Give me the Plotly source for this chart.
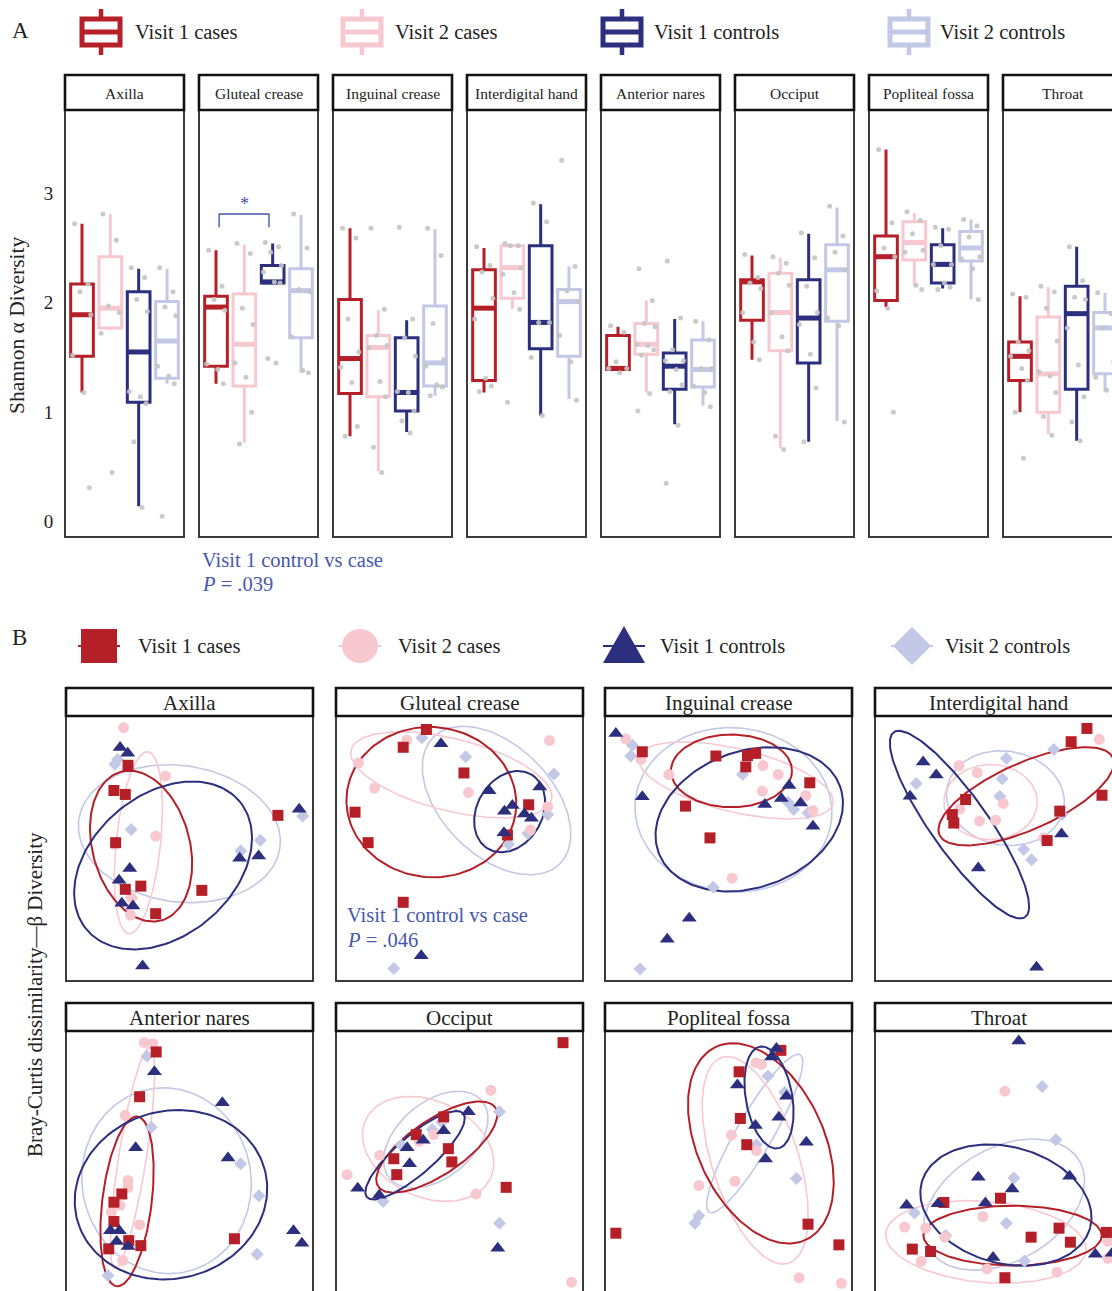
import math
import plotly.graph_objects as go

FIG_W, FIG_H = 1112, 1291
FONT = "Liberation Serif"

RED = "#b51f28"
PINK = "#f8c8d0"
NAVY = "#2b2f7d"
LAV = "#c3c8e6"
GREY = "#c4c4c4"
NOTE_BLUE = "#4658ad"

GROUPS = ["Visit 1 cases", "Visit 2 cases", "Visit 1 controls", "Visit 2 controls"]
COLORS = [RED, PINK, NAVY, LAV]
SITES = ["Axilla", "Gluteal crease", "Inguinal crease", "Interdigital hand",
         "Anterior nares", "Occiput", "Popliteal fossa", "Throat"]

# ---- Panel A: Shannon alpha diversity (rows = sites, columns = GROUPS) ----
alpha_lower = [
    [1.18, 1.75, 0.14, 1.26],
    [1.26, 0.72, 2.18, 1.36],
    [0.78, 0.46, 0.82, 1.15],
    [1.18, 1.94, 0.97, 1.12],
    [1.39, 1.18, 0.89, 1.06],
    [1.48, 0.67, 0.73, 0.92],
    [1.96, 2.15, 2.13, 2.03],
    [1.00, 0.80, 0.74, 1.19],
]
alpha_q1 = [
    [1.51, 1.77, 1.09, 1.31],
    [1.42, 1.24, 2.18, 1.68],
    [1.17, 1.14, 1.01, 1.24],
    [1.29, 2.04, 1.58, 1.51],
    [1.39, 1.53, 1.21, 1.23],
    [1.84, 1.56, 1.45, 1.83],
    [2.02, 2.39, 2.18, 2.38],
    [1.29, 1.00, 1.21, 1.35],
]
alpha_median = [
    [1.89, 1.95, 1.55, 1.65],
    [1.96, 1.62, 2.19, 2.11],
    [1.49, 1.59, 1.18, 1.45],
    [1.95, 2.32, 1.82, 2.01],
    [1.40, 1.62, 1.42, 1.39],
    [2.19, 1.91, 1.86, 2.30],
    [2.42, 2.55, 2.35, 2.50],
    [1.51, 1.35, 1.90, 1.77],
]
alpha_q3 = [
    [2.17, 2.42, 2.10, 2.01],
    [2.06, 2.08, 2.34, 2.31],
    [2.03, 1.70, 1.68, 1.97],
    [2.30, 2.52, 2.52, 2.12],
    [1.70, 1.81, 1.54, 1.66],
    [2.21, 2.27, 2.21, 2.53],
    [2.61, 2.74, 2.53, 2.65],
    [1.64, 1.87, 2.15, 1.91],
]
alpha_upper = [
    [2.72, 2.81, 2.31, 2.31],
    [2.48, 2.53, 2.54, 2.80],
    [2.68, 1.93, 1.84, 2.67],
    [2.50, 2.52, 2.90, 2.33],
    [1.78, 2.02, 1.85, 1.83],
    [2.43, 2.41, 2.63, 2.87],
    [3.40, 2.82, 2.68, 2.76],
    [2.06, 2.14, 2.51, 2.09],
]
alpha_samples = [
    [[2.72, 2.17, 2.10, 1.89, 1.52, 1.18, 0.31],
     [2.81, 2.57, 1.97, 1.91, 1.72, 0.45],
     [2.32, 2.23, 2.03, 1.92, 1.19, 1.14, 1.08, 0.73, 0.13],
     [2.32, 2.10, 1.96, 1.88, 1.42, 1.33, 1.26, 0.05]],
    [[2.48, 2.15, 2.03, 1.93, 1.44, 1.39, 1.26],
     [2.54, 2.45, 1.95, 1.80, 1.45, 1.32, 1.00, 0.71],
     [2.55, 2.51, 2.46, 2.34, 2.28, 2.19, 2.18, 1.49, 1.45],
     [2.81, 2.50, 2.12, 2.10, 1.69, 1.38, 1.36]],
    [[2.68, 2.59, 1.85, 1.55, 1.41, 1.27, 0.87, 0.78],
     [2.68, 1.94, 1.70, 1.61, 1.59, 1.28, 1.14, 0.68, 0.45],
     [2.69, 1.85, 1.68, 1.51, 1.19, 1.18, 1.01, 0.92, 0.81],
     [2.68, 2.43, 1.81, 1.48, 1.42, 1.25, 1.23, 1.15]],
    [[2.51, 2.34, 2.28, 2.04, 1.85, 1.31, 1.24, 1.19],
     [2.54, 2.52, 2.52, 2.32, 2.26, 2.09, 1.94, 1.09],
     [2.91, 2.74, 1.82, 1.82, 1.50, 0.97],
     [3.30, 2.33, 2.11, 2.01, 1.70, 1.46, 1.11]],
    [[1.79, 1.73, 1.46, 1.40, 1.40, 1.36],
     [2.31, 2.02, 1.81, 1.78, 1.62, 1.61, 1.57, 1.52, 1.17, 1.01],
     [2.38, 1.86, 1.57, 1.47, 1.47, 1.39, 1.25, 1.19, 0.88, 0.35],
     [1.83, 1.66, 1.40, 1.40, 1.24, 1.18, 1.05]],
    [[2.44, 2.23, 2.18, 2.13, 1.91, 1.64, 1.48],
     [2.42, 2.36, 2.27, 2.16, 1.91, 1.69, 1.56, 0.78, 0.66],
     [2.64, 2.41, 2.15, 1.91, 1.80, 1.53, 1.22, 0.73],
     [2.88, 2.61, 2.46, 2.30, 1.86, 1.79, 0.91]],
    [[3.40, 2.73, 2.50, 2.42, 2.11, 1.95, 1.00],
     [2.83, 2.75, 2.63, 2.48, 2.46, 2.16, 2.12],
     [2.69, 2.67, 2.52, 2.35, 2.35, 2.18, 2.14, 2.12],
     [2.76, 2.70, 2.60, 2.42, 2.40, 2.31, 2.03]],
    [[2.08, 2.05, 1.64, 1.56, 1.51, 1.40, 1.29, 1.00, 0.58],
     [2.15, 2.10, 1.95, 1.65, 1.37, 1.33, 1.18, 0.96, 0.79],
     [2.51, 2.20, 2.05, 2.03, 1.77, 1.43, 1.14, 0.91, 0.74],
     [2.09, 1.90, 1.77, 1.46, 1.32, 1.20]],
]
alpha_ticks = [0, 1, 2, 3]

# ---- Panel B: Bray-Curtis ordination coordinates (scaled to each facet) ----
beta_x = [
    [[0.251, 0.194, 0.240, 0.858, 0.201, 0.240, 0.303, 0.550, 0.363],
     [0.233, 0.403, 0.363, 0.198, 0.261, 0.265],
     [0.219, 0.250, 0.944, 0.703, 0.780, 0.258, 0.215, 0.226, 0.271, 0.310],
     [0.198, 0.209, 0.264, 0.787, 0.707, 0.265, 0.958]],
    [[0.366, 0.272, 0.518, 0.077, 0.130, 0.780, 0.694, 0.272],
     [0.286, 0.091, 0.156, 0.536, 0.864, 0.857, 0.787],
     [0.425, 0.620, 0.825, 0.682, 0.714, 0.763, 0.791, 0.680, 0.345],
     [0.348, 0.525, 0.882, 0.857, 0.699, 0.777, 0.234]],
    [[0.151, 0.449, 0.577, 0.610, 0.570, 0.829, 0.326, 0.425],
     [0.084, 0.146, 0.259, 0.640, 0.701, 0.637, 0.813, 0.842, 0.515],
     [0.044, 0.151, 0.745, 0.647, 0.714, 0.792, 0.842, 0.341, 0.252],
     [0.111, 0.104, 0.557, 0.741, 0.764, 0.822, 0.438, 0.142]],
    [[0.858, 0.794, 0.919, 0.367, 0.313, 0.319, 0.748, 0.697],
     [0.908, 0.414, 0.344, 0.423, 0.488, 0.519, 0.340, 0.683],
     [0.195, 0.248, 0.142, 0.755, 0.418, 0.654],
     [0.167, 0.515, 0.505, 0.532, 0.724, 0.602, 0.634, 0.757]],
    [[0.365, 0.298, 0.226, 0.194, 0.194, 0.254, 0.303, 0.173, 0.682],
     [0.317, 0.352, 0.240, 0.251, 0.251, 0.219, 0.184, 0.298, 0.230],
     [0.358, 0.633, 0.282, 0.656, 0.180, 0.216, 0.205, 0.251, 0.921, 0.955],
     [0.328, 0.345, 0.707, 0.781, 0.774, 0.170]],
    [[0.919, 0.436, 0.325, 0.455, 0.234, 0.469, 0.246, 0.689],
     [0.627, 0.436, 0.396, 0.336, 0.177, 0.045, 0.567, 0.954],
     [0.536, 0.436, 0.353, 0.288, 0.298, 0.088, 0.175, 0.655],
     [0.662, 0.390, 0.429, 0.265, 0.191, 0.662]],
    [[0.712, 0.543, 0.548, 0.574, 0.822, 0.044, 0.947],
     [0.611, 0.633, 0.512, 0.613, 0.526, 0.380, 0.786, 0.957],
     [0.694, 0.674, 0.536, 0.735, 0.704, 0.609, 0.815, 0.650],
     [0.660, 0.728, 0.613, 0.775, 0.380, 0.364]],
    [[0.279, 0.508, 0.151, 0.225, 0.632, 0.745, 0.791, 0.937, 0.526],
     [0.526, 0.437, 0.120, 0.205, 0.283, 0.187, 0.454, 0.737, 0.943, 0.943],
     [0.582, 0.418, 0.555, 0.788, 0.128, 0.255, 0.447, 0.478, 0.892, 0.960],
     [0.677, 0.732, 0.562, 0.532, 0.160, 0.286, 0.605]],
]
beta_y = [
    [[0.814, 0.719, 0.704, 0.625, 0.522, 0.346, 0.358, 0.342, 0.254],
     [0.956, 0.774, 0.547, 0.516, 0.249, 0.314],
     [0.881, 0.859, 0.648, 0.463, 0.472, 0.425, 0.380, 0.293, 0.283, 0.057],
     [0.818, 0.836, 0.572, 0.531, 0.491, 0.314, 0.623]],
    [[0.949, 0.882, 0.785, 0.637, 0.522, 0.665, 0.551, 0.297],
     [0.909, 0.823, 0.728, 0.711, 0.908, 0.658, 0.570],
     [0.895, 0.718, 0.732, 0.641, 0.662, 0.630, 0.614, 0.559, 0.095],
     [0.918, 0.846, 0.781, 0.628, 0.516, 0.557, 0.047]],
    [[0.865, 0.849, 0.851, 0.859, 0.808, 0.748, 0.660, 0.540],
     [0.914, 0.836, 0.779, 0.813, 0.779, 0.716, 0.700, 0.643, 0.388],
     [0.934, 0.695, 0.738, 0.666, 0.689, 0.672, 0.584, 0.237, 0.158],
     [0.890, 0.849, 0.779, 0.675, 0.647, 0.634, 0.354, 0.045]],
    [[0.953, 0.903, 0.701, 0.685, 0.628, 0.596, 0.641, 0.530],
     [0.912, 0.786, 0.649, 0.603, 0.607, 0.670, 0.813, 0.540],
     [0.826, 0.777, 0.697, 0.555, 0.426, 0.052],
     [0.745, 0.763, 0.697, 0.840, 0.874, 0.496, 0.458, 0.628]],
    [[0.921, 0.752, 0.385, 0.354, 0.281, 0.209, 0.190, 0.178, 0.216],
     [0.956, 0.952, 0.682, 0.436, 0.410, 0.342, 0.317, 0.269, 0.134],
     [0.846, 0.729, 0.559, 0.521, 0.246, 0.246, 0.206, 0.187, 0.246, 0.199],
     [0.905, 0.637, 0.499, 0.378, 0.158, 0.077]],
    [[0.956, 0.676, 0.609, 0.556, 0.518, 0.506, 0.458, 0.410],
     [0.776, 0.670, 0.609, 0.584, 0.531, 0.458, 0.385, 0.052],
     [0.695, 0.624, 0.588, 0.559, 0.499, 0.407, 0.380, 0.180],
     [0.695, 0.628, 0.656, 0.569, 0.357, 0.275]],
    [[0.927, 0.846, 0.670, 0.571, 0.271, 0.237, 0.193],
     [0.880, 0.874, 0.607, 0.549, 0.433, 0.417, 0.069, 0.048],
     [0.934, 0.902, 0.796, 0.754, 0.675, 0.643, 0.580, 0.517],
     [0.830, 0.769, 0.571, 0.443, 0.303, 0.275]],
    [[0.353, 0.369, 0.177, 0.168, 0.222, 0.256, 0.203, 0.240, 0.069],
     [0.773, 0.300, 0.260, 0.256, 0.222, 0.131, 0.102, 0.090, 0.206, 0.142],
     [0.962, 0.448, 0.404, 0.452, 0.342, 0.348, 0.351, 0.145, 0.158, 0.161],
     [0.791, 0.590, 0.445, 0.275, 0.313, 0.228, 0.132]],
]

# 95% ellipses per site and group: centre, semi-axes (facet-width units), rotation (deg)
ell_cx = [
    [0.304, 0.293, 0.393, 0.459], [0.386, 0.467, 0.703, 0.650],
    [0.512, 0.530, 0.584, 0.520], [0.612, 0.468, 0.342, 0.528],
    [0.247, 0.269, 0.425, 0.407], [0.408, 0.373, 0.320, 0.404],
    [0.631, 0.608, 0.664, 0.606], [0.557, 0.449, 0.530, 0.522],
]
ell_cy = [
    [0.509, 0.522, 0.436, 0.556], [0.675, 0.778, 0.639, 0.681],
    [0.793, 0.757, 0.610, 0.646], [0.697, 0.675, 0.590, 0.690],
    [0.357, 0.521, 0.382, 0.435], [0.562, 0.555, 0.531, 0.590],
    [0.576, 0.512, 0.749, 0.613], [0.228, 0.204, 0.343, 0.345],
]
ell_a = [
    [0.312, 0.370, 0.404, 0.411], [0.344, 0.418, 0.174, 0.362],
    [0.245, 0.404, 0.391, 0.399], [0.384, 0.189, 0.459, 0.240],
    [0.346, 0.452, 0.393, 0.377], [0.286, 0.279, 0.258, 0.244],
    [0.431, 0.438, 0.209, 0.368], [0.361, 0.407, 0.353, 0.353],
]
ell_b = [
    [0.197, 0.090, 0.286, 0.276], [0.304, 0.146, 0.132, 0.223],
    [0.147, 0.128, 0.276, 0.332], [0.135, 0.152, 0.115, 0.190],
    [0.100, 0.056, 0.339, 0.342], [0.111, 0.195, 0.077, 0.153],
    [0.256, 0.175, 0.094, 0.074], [0.121, 0.164, 0.236, 0.229],
]
ell_angle = [
    [105, 84, 40, -8], [-5, -14, 60, -45],
    [0, -13.5, 20, -5], [24, 0, -54.6, -10],
    [83, 81, 15, 100], [34, -25, 41, 40],
    [115, 108, 100, 60], [0, -5, -15, 30],
]


def px_x(p):
    return p / FIG_W


def px_y(p):
    return 1 - p / FIG_H


fig = go.Figure()
layout = {}
shapes = []
annotations = []


def axis_keys(n):
    s = "" if n == 1 else str(n)
    return "xaxis" + s, "yaxis" + s, "x" + s, "y" + s


def add_text(x, y, text, size, color="#222222", xanchor="left", angle=0):
    annotations.append(dict(
        x=px_x(x), y=px_y(y), xref="paper", yref="paper", text=text,
        showarrow=False, xanchor=xanchor, yanchor="middle", textangle=angle,
        font=dict(family=FONT, size=size, color=color)))


def add_strip(left, top, bottom, width, label, size):
    shapes.append(dict(type="rect", xref="paper", yref="paper",
                       x0=px_x(left), x1=px_x(left + width), y0=px_y(bottom), y1=px_y(top),
                       line=dict(color="#111111", width=2.6), fillcolor="white", layer="above"))
    add_text(left + width / 2, (top + bottom) / 2 + 1, label, size, xanchor="center")


def add_frame(left, top, bottom, width):
    shapes.append(dict(type="rect", xref="paper", yref="paper",
                       x0=px_x(left), x1=px_x(left + width), y0=px_y(bottom), y1=px_y(top),
                       line=dict(color="#3c3c3c", width=2), layer="above"))


hidden = dict(showgrid=False, zeroline=False, showline=False, showticklabels=False, ticks="")

# ---------------- Panel A ----------------
A_LEFT = [65 + 134 * i for i in range(8)]
A_W = 119
A_TOP, A_BOT, A_STRIP = 110, 537, 75
A_UNIT = A_W / 4.2
JITTER = [-0.26, 0.21, -0.07, 0.31, -0.33, 0.06, 0.26, -0.17, 0.12, -0.3, 0.0]

for i, site in enumerate(SITES):
    n = i + 1
    xk, yk, xr, yr = axis_keys(n)
    left = A_LEFT[i]
    right = min(left + A_W, FIG_W)
    layout[xk] = dict(domain=[px_x(left), px_x(right)], range=[0.4, 0.4 + (right - left) / A_UNIT],
                      anchor=yr, **hidden)
    yax = dict(domain=[px_y(A_BOT), px_y(A_TOP)], range=[-0.14, 3.76], anchor=xr,
               showgrid=False, zeroline=False, showline=False)
    if i == 0:
        yax.update(showticklabels=True, tickvals=alpha_ticks, ticks="outside", ticklen=7,
                   tickcolor="rgba(0,0,0,0)", tickfont=dict(family=FONT, size=19, color="#222222"))
    else:
        yax.update(showticklabels=False, ticks="")
    layout[yk] = yax

    for g in range(4):
        pos = g + 1
        fig.add_trace(go.Box(
            x=[pos], q1=[alpha_q1[i][g]], median=[alpha_median[i][g]], q3=[alpha_q3[i][g]],
            lowerfence=[alpha_lower[i][g]], upperfence=[alpha_upper[i][g]],
            width=0.8, whiskerwidth=0, boxpoints=False, fillcolor="white",
            line=dict(color=COLORS[g], width=3), xaxis=xr, yaxis=yr,
            showlegend=False, hoverinfo="skip"))
        # heavier median bar
        fig.add_trace(go.Scatter(
            x=[pos - 0.38, pos + 0.38], y=[alpha_median[i][g]] * 2, mode="lines",
            line=dict(color=COLORS[g], width=5), xaxis=xr, yaxis=yr,
            showlegend=False, hoverinfo="skip"))
    for g in range(4):
        vals = alpha_samples[i][g]
        xs = [g + 1 + JITTER[k % len(JITTER)] for k in range(len(vals))]
        fig.add_trace(go.Scatter(
            x=xs, y=vals, mode="markers", marker=dict(color=GREY, size=5, opacity=0.9),
            xaxis=xr, yaxis=yr, showlegend=False, hoverinfo="skip"))

    add_frame(left, A_TOP, A_BOT, A_W)
    add_strip(left, A_STRIP, A_TOP, A_W, site, 15.5)

# significance bracket (Gluteal crease, visit 1 cases vs controls)
fig.add_trace(go.Scatter(x=[1.11, 1.11, 2.87, 2.87], y=[2.69, 2.81, 2.81, 2.69], mode="lines",
                         line=dict(color=NOTE_BLUE, width=1.4), xaxis="x2", yaxis="y2",
                         showlegend=False, hoverinfo="skip"))
annotations.append(dict(x=1.99, y=2.9, xref="x2", yref="y2", text="*", showarrow=False,
                        yanchor="middle", font=dict(family=FONT, size=18, color=NOTE_BLUE)))
add_text(200, 560, "Visit 1 control vs case", 20.5, NOTE_BLUE)
add_text(200, 584, "<i>P</i> = .039", 20.5, NOTE_BLUE)

# Panel A title and legend
add_text(10, 30, "A", 23)
add_text(17, 325, "Shannon α Diversity", 21.5, xanchor="center", angle=-90)
legend_a_x = [101, 362, 622, 909]
legend_a_text = [133, 393, 652, 938]
for g in range(4):
    cx, c = legend_a_x[g], COLORS[g]
    shapes.append(dict(type="line", xref="paper", yref="paper", x0=px_x(cx), x1=px_x(cx),
                       y0=px_y(9), y1=px_y(55), line=dict(color=c, width=4.5)))
    shapes.append(dict(type="rect", xref="paper", yref="paper", x0=px_x(cx - 19), x1=px_x(cx + 19),
                       y0=px_y(45), y1=px_y(19), fillcolor="white", line=dict(color=c, width=5)))
    shapes.append(dict(type="line", xref="paper", yref="paper", x0=px_x(cx - 19), x1=px_x(cx + 19),
                       y0=px_y(32), y1=px_y(32), line=dict(color=c, width=5)))
    add_text(legend_a_text[g], 32, GROUPS[g], 20.5)

# ---------------- Panel B ----------------
B_LEFT = [66, 336, 605, 875]
B_W = 247
B_ROWS = [(688, 716, 981), (1003, 1031, 1296)]
ASPECT = B_W / (B_ROWS[0][2] - B_ROWS[0][1])
SYMBOLS = ["square", "circle", "triangle-up", "diamond"]
SIZES = [11, 11, 13, 10]
ELL_W = [2.0, 1.6, 2.0, 1.6]
DRAW_ORDER = [3, 1, 0, 2]

for i, site in enumerate(SITES):
    n = 9 + i
    xk, yk, xr, yr = axis_keys(n)
    row, col = divmod(i, 4)
    left = B_LEFT[col]
    strip_top, top, bottom = B_ROWS[row]
    right = min(left + B_W, FIG_W)
    low = min(bottom, FIG_H)
    layout[xk] = dict(domain=[px_x(left), px_x(right)], range=[0, (right - left) / B_W],
                      anchor=yr, **hidden)
    layout[yk] = dict(domain=[px_y(low), px_y(top)],
                      range=[(bottom - low) / (bottom - top), 1], anchor=xr, **hidden)

    steps = 160
    for g in DRAW_ORDER:
        th = math.radians(ell_angle[i][g])
        a, b = ell_a[i][g], ell_b[i][g]
        ex, ey = [], []
        for k in range(steps + 1):
            t = 2 * math.pi * k / steps
            ex.append(ell_cx[i][g] + a * math.cos(t) * math.cos(th) - b * math.sin(t) * math.sin(th))
            ey.append(ell_cy[i][g] + (a * math.cos(t) * math.sin(th) + b * math.sin(t) * math.cos(th)) * ASPECT)
        fig.add_trace(go.Scatter(x=ex, y=ey, mode="lines", line=dict(color=COLORS[g], width=ELL_W[g]),
                                 xaxis=xr, yaxis=yr, showlegend=False, hoverinfo="skip"))
    for g in DRAW_ORDER:
        fig.add_trace(go.Scatter(
            x=beta_x[i][g], y=beta_y[i][g], mode="markers",
            marker=dict(symbol=SYMBOLS[g], size=SIZES[g], color=COLORS[g], line=dict(width=0)),
            xaxis=xr, yaxis=yr, showlegend=False, hoverinfo="skip"))

    add_frame(left, top, bottom, B_W)
    add_strip(left, strip_top, top, B_W, site, 21)

add_text(345, 915, "Visit 1 control vs case", 20.5, NOTE_BLUE)
add_text(345, 940, "<i>P</i> = .046", 20.5, NOTE_BLUE)

# Panel B title and legend
add_text(10, 637, "B", 23)
add_text(35, 995, "Bray-Curtis dissimilarity—β Diversity", 21, xanchor="center", angle=-90)
legend_b_x = [99, 360, 624, 912]
legend_b_text = [136, 396, 658, 943]
LY = 646
for g in range(4):
    cx, c = legend_b_x[g], COLORS[g]
    shapes.append(dict(type="line", xref="paper", yref="paper", x0=px_x(cx - 21), x1=px_x(cx + 21),
                       y0=px_y(LY), y1=px_y(LY), line=dict(color=c, width=2)))
    if g == 0:
        shapes.append(dict(type="rect", xref="paper", yref="paper", x0=px_x(cx - 18), x1=px_x(cx + 18),
                           y0=px_y(LY + 17), y1=px_y(LY - 17), fillcolor=c, line=dict(width=0)))
    elif g == 1:
        shapes.append(dict(type="circle", xref="paper", yref="paper", x0=px_x(cx - 18), x1=px_x(cx + 18),
                           y0=px_y(LY + 17), y1=px_y(LY - 17), fillcolor=c, line=dict(width=0)))
    elif g == 2:
        path = "M {} {} L {} {} L {} {} Z".format(px_x(cx - 21), px_y(LY + 17), px_x(cx + 21), px_y(LY + 17),
                                                  px_x(cx), px_y(LY - 20))
        shapes.append(dict(type="path", xref="paper", yref="paper", path=path, fillcolor=c, line=dict(width=0)))
    else:
        path = "M {} {} L {} {} L {} {} L {} {} Z".format(px_x(cx - 19), px_y(LY), px_x(cx), px_y(LY - 19),
                                                          px_x(cx + 19), px_y(LY), px_x(cx), px_y(LY + 19))
        shapes.append(dict(type="path", xref="paper", yref="paper", path=path, fillcolor=c, line=dict(width=0)))
    add_text(legend_b_text[g], LY, GROUPS[g], 20.5)

fig.update_layout(
    width=FIG_W, height=FIG_H, margin=dict(l=0, r=0, t=0, b=0),
    paper_bgcolor="white", plot_bgcolor="rgba(0,0,0,0)",
    showlegend=False, shapes=shapes, annotations=annotations,
    font=dict(family=FONT, color="#222222"), **layout)

fig.write_html("out.html")
